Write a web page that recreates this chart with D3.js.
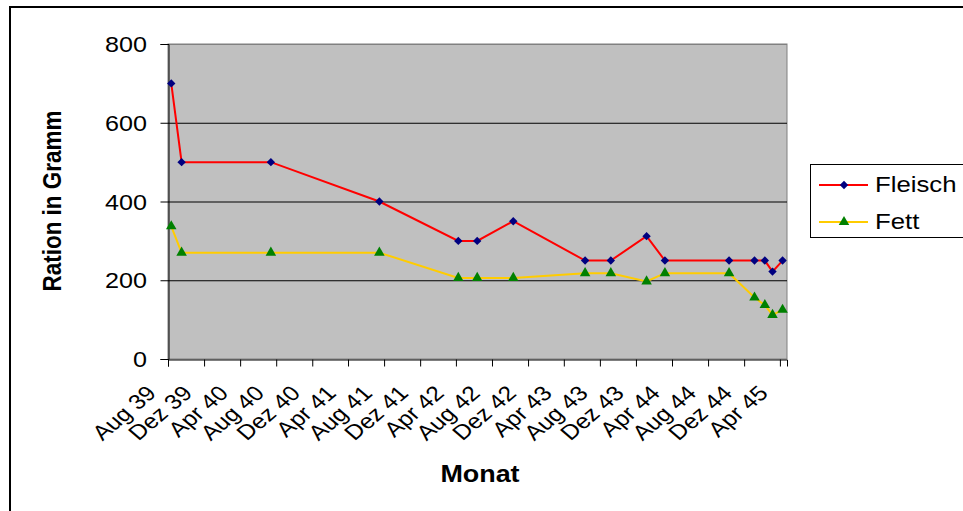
<!DOCTYPE html>
<html>
<head>
<meta charset="utf-8">
<script src="https://cdn.jsdelivr.net/npm/d3@7"></script>
<style>
  body { margin: 0; background: #fff; }
  svg { display: block; font-family: Arial, "Liberation Sans", sans-serif; }
</style>
</head>
<body>
<svg width="963" height="511"></svg>
<script>
// Rationen (Gramm pro Woche)
const dates = ["1939-08-12", "1939-09-16", "1940-07-14", "1941-07-16", "1942-04-09", "1942-06-12",
  "1942-10-12", "1943-06-12", "1943-09-07", "1944-01-06", "1944-03-08", "1944-10-11",
  "1945-01-05", "1945-02-09", "1945-03-07", "1945-04-10"];
const fleisch = [700, 500, 500, 400, 300, 300, 350, 250, 250, 312, 250, 250, 250, 250, 222, 250];
const fett = [337, 270, 270, 270, 206, 206, 206, 218, 218, 197, 218, 218, 156, 137, 112, 125];
const tickLabels = ["Aug 39", "Dez 39", "Apr 40", "Aug 40", "Dez 40", "Apr 41", "Aug 41", "Dez 41",
  "Apr 42", "Aug 42", "Dez 42", "Apr 43", "Aug 43", "Dez 43", "Apr 44", "Aug 44", "Dez 44", "Apr 45"];
const yTicks = [0, 200, 400, 600, 800];

const parse = d3.timeParse("%Y-%m-%d");
const svg = d3.select("svg");

const pLeft = 168, pRight = 787, pTop = 44, pBottom = 359;
const sx = 1.17; // Text im Original etwas in die Breite gezogen

const x = d3.scaleTime()
  .domain([parse("1939-08-01"), parse("1945-04-25")])
  .range([pLeft, pRight]);
const y = d3.scaleLinear().domain([0, 800]).range([pBottom, pTop]);

const tickDates = d3.timeMonth.range(parse("1939-08-01"), parse("1945-04-02"), 4);

// Rahmen
svg.append("rect")
  .attr("x", 10).attr("y", 7).attr("width", 980).attr("height", 520)
  .attr("fill", "#fff").attr("stroke", "#000").attr("stroke-width", 2);

// Zeichenfläche
svg.append("rect")
  .attr("x", pLeft).attr("y", pTop).attr("width", pRight - pLeft).attr("height", pBottom - pTop)
  .attr("fill", "#c0c0c0").attr("stroke", "#808080").attr("stroke-width", 1);

// Gitternetz
svg.append("g").selectAll("line").data(yTicks.filter(d => d > 0)).join("line")
  .attr("x1", pLeft).attr("x2", pRight)
  .attr("y1", d => y(d) + 0.5).attr("y2", d => y(d) + 0.5)
  .attr("stroke", d => d === 800 ? "#808080" : "#000").attr("stroke-width", 1);

// y-Achse
const yAxis = svg.append("g")
  .attr("transform", `translate(${pLeft + 0.5},0)`)
  .call(d3.axisLeft(y).tickValues(yTicks).tickSize(8));
yAxis.select(".domain").attr("stroke", "#000");
yAxis.selectAll("text")
  .attr("font-size", 21.5).attr("font-family", null).attr("fill", "#000")
  .attr("x", 0).attr("dy", "0.35em")
  .attr("transform", `translate(-21.5,0) scale(${sx},1)`);

// x-Achse
const xAxis = svg.append("g")
  .attr("transform", `translate(0,${pBottom + 0.5})`)
  .call(d3.axisBottom(x).tickValues(tickDates).tickSize(7)
    .tickFormat((d, i) => tickLabels[i]));
xAxis.select(".domain").attr("stroke", "#000");
xAxis.selectAll("text")
  .attr("font-size", 21).attr("font-family", null).attr("fill", "#000")
  .attr("text-anchor", "end")
  .attr("y", 0).attr("dy", 0)
  .attr("transform", `translate(-11,35) scale(${sx},1) rotate(-45)`);

const pts = dates.map((d, i) => ({ t: parse(d), fl: fleisch[i], fe: fett[i] }));

// Linien
svg.append("path").datum(pts)
  .attr("fill", "none").attr("stroke", "#ffcc00").attr("stroke-width", 2)
  .attr("d", d3.line().x(d => x(d.t)).y(d => y(d.fe)));
svg.append("path").datum(pts)
  .attr("fill", "none").attr("stroke", "#ff0000").attr("stroke-width", 2)
  .attr("d", d3.line().x(d => x(d.t)).y(d => y(d.fl)));

const diamond = d3.symbol().type(d3.symbolDiamond2).size(45);
const triangle = d3.symbol().type(d3.symbolTriangle).size(48);

svg.append("g").selectAll("path").data(pts).join("path")
  .attr("transform", d => `translate(${x(d.t)},${y(d.fe)})`)
  .attr("d", triangle).attr("fill", "#008000");
svg.append("g").selectAll("path").data(pts).join("path")
  .attr("transform", d => `translate(${x(d.t)},${y(d.fl)})`)
  .attr("d", diamond).attr("fill", "#000080");

// Achsentitel
svg.append("text")
  .attr("transform", `translate(61,201) scale(${sx},1) rotate(-90)`)
  .attr("text-anchor", "middle").attr("font-size", 22.5).attr("font-weight", "bold")
  .text("Ration in Gramm");
svg.append("text")
  .attr("transform", `translate(480,482) scale(${sx},1)`)
  .attr("text-anchor", "middle").attr("font-size", 23).attr("font-weight", "bold")
  .text("Monat");

// Legende
const leg = svg.append("g");
leg.append("rect")
  .attr("x", 810.5).attr("y", 164.5).attr("width", 170).attr("height", 73)
  .attr("fill", "#fff").attr("stroke", "#000").attr("stroke-width", 1);
const legItems = [
  { name: "Fleisch", color: "#ff0000", sym: diamond, fill: "#000080", yy: 185 },
  { name: "Fett", color: "#ffcc00", sym: triangle, fill: "#008000", yy: 222 }
];
legItems.forEach(it => {
  leg.append("line").attr("x1", 819).attr("x2", 868).attr("y1", it.yy).attr("y2", it.yy)
    .attr("stroke", it.color).attr("stroke-width", 2);
  leg.append("path").attr("transform", `translate(844,${it.yy})`).attr("d", it.sym).attr("fill", it.fill);
  leg.append("text").attr("transform", `translate(875,${it.yy + 7}) scale(${sx},1)`)
    .attr("font-size", 22).text(it.name);
});
</script>
</body>
</html>
